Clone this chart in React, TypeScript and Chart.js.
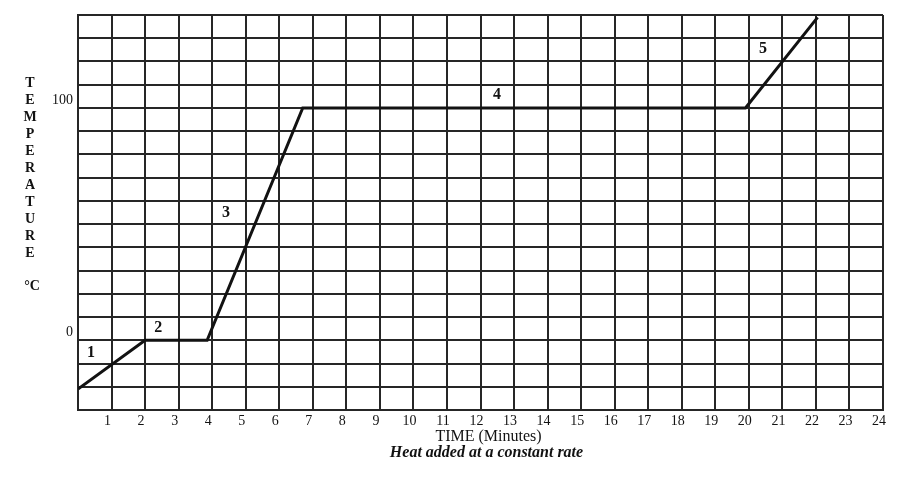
import React, { useEffect, useRef } from "react";
import { Chart, registerables } from "chart.js";

Chart.register(...registerables);

// ---- data ----
const timeMin = [0, 2, 3.85, 6.7, 19.9, 22.05];
const tempC = [-21, 0, 0, 100, 100, 139];

const xTickLabels = [1, 2, 3, 4, 5, 6, 7, 8, 9, 10, 11, 12, 13, 14, 15, 16, 17, 18, 19, 20, 21, 22, 23, 24];
const yTickLabels = [0, 100];

const segmentNames = ["1", "2", "3", "4", "5"];
const segmentLabelX = [0.39, 2.39, 4.41, 12.49, 20.42];
const segmentLabelY = [-5.5, 5.2, 55, 105.6, 125.3];

const yAxisWord = "TEMPERATURE";
const yAxisUnit = "°C";
const xAxisTitle = "TIME (Minutes)";
const xAxisSubtitle = "Heat added at a constant rate";

const xMin = 0;
const xMax = 24;
const yMin = -30;
const yMax = 140;
const yStep = 10;

const SERIF = '"Liberation Serif", "DejaVu Serif", serif';
const INK = "#121212";
const GRID = "#262626";

const textPlugin = {
  id: "textPlugin",
  afterDraw(chart: any) {
    const { ctx, chartArea, scales } = chart;
    ctx.save();
    ctx.fillStyle = INK;
    ctx.textAlign = "center";
    ctx.textBaseline = "middle";

    // stacked vertical axis word
    ctx.font = `bold 14px ${SERIF}`;
    const lx = chartArea.left - 48;
    yAxisWord.split("").forEach((ch, i) => {
      ctx.fillText(ch, lx, chartArea.top + 68 + i * 17);
    });
    ctx.fillText(yAxisUnit, lx + 2, chartArea.top + 271);

    // segment numbers
    ctx.font = `bold 16px ${SERIF}`;
    segmentNames.forEach((s, i) => {
      ctx.fillText(
        s,
        scales.x.getPixelForValue(segmentLabelX[i]),
        scales.y.getPixelForValue(segmentLabelY[i])
      );
    });

    // x titles
    const cx = (chartArea.left + chartArea.right) / 2 + 8;
    ctx.font = `16px ${SERIF}`;
    ctx.fillText(xAxisTitle, cx, chartArea.bottom + 27);
    ctx.font = `italic bold 16px ${SERIF}`;
    ctx.fillText(xAxisSubtitle, cx - 2, chartArea.bottom + 43);
    ctx.restore();
  },
};

export default function App() {
  const canvasRef = useRef<HTMLCanvasElement | null>(null);

  useEffect(() => {
    const canvas = canvasRef.current;
    if (!canvas) return;
    const points = timeMin.map((t, i) => ({ x: t, y: tempC[i] }));
    const chart = new Chart(canvas, {
      type: "line",
      data: {
        datasets: [
          {
            data: points,
            borderColor: INK,
            borderWidth: 3,
            pointRadius: 0,
            tension: 0,
            fill: false,
          },
        ],
      },
      options: {
        animation: false,
        responsive: false,
        devicePixelRatio: 1,
        layout: { padding: { left: 8, top: 15, right: 27, bottom: 0 } },
        plugins: {
          legend: { display: false },
          tooltip: { enabled: false },
          title: { display: false },
        },
        scales: {
          x: {
            type: "linear",
            min: xMin,
            max: xMax,
            afterFit: (scale: any) => {
              scale.height = 77;
            },
            grid: { color: GRID, lineWidth: 2, drawTicks: false },
            border: { display: true, color: GRID, width: 2 },
            ticks: {
              stepSize: 1,
              autoSkip: false,
              maxRotation: 0,
              minRotation: 0,
              padding: 3,
              labelOffset: -4,
              color: INK,
              font: { family: SERIF, size: 14 },
              callback: (v: any) => (xTickLabels.includes(Number(v)) ? String(v) : ""),
            },
          },
          y: {
            type: "linear",
            min: yMin,
            max: yMax,
            afterFit: (scale: any) => {
              scale.width = 70;
            },
            grid: { color: GRID, lineWidth: 2, drawTicks: false },
            border: { display: true, color: GRID, width: 2 },
            ticks: {
              stepSize: yStep,
              autoSkip: false,
              padding: 5,
              labelOffset: -8,
              color: INK,
              font: { family: SERIF, size: 14 },
              callback: (v: any) => (yTickLabels.includes(Number(v)) ? String(v) : ""),
            },
          },
        },
      },
      plugins: [textPlugin],
    });
    return () => chart.destroy();
  }, []);

  return (
    <div style={{ position: "fixed", left: 0, top: 0, width: 910, height: 487, background: "#fff" }}>
      <canvas ref={canvasRef} width={910} height={487} style={{ width: 910, height: 487, display: "block" }} />
    </div>
  );
}
